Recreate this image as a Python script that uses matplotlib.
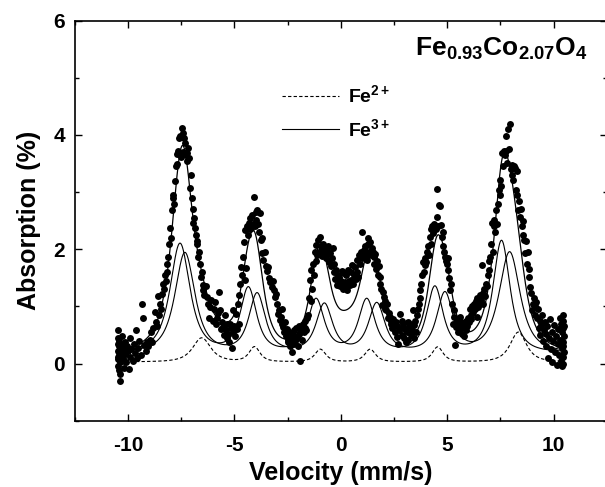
import numpy as np
import matplotlib.pyplot as plt
from matplotlib.ticker import MultipleLocator

plt.rcParams['font.family'] = 'Liberation Sans'
plt.rcParams['font.weight'] = 'bold'
plt.rcParams['mathtext.fontset'] = 'custom'
plt.rcParams['mathtext.rm'] = 'Liberation Sans:bold'
plt.rcParams['mathtext.it'] = 'Liberation Sans:bold'
plt.rcParams['mathtext.bf'] = 'Liberation Sans:bold'
plt.rcParams['mathtext.default'] = 'regular'
plt.rcParams['axes.unicode_minus'] = False

edge_l_x = [-10.48, -10.47, -10.47, -10.46, -10.45, -10.45, -10.44, -10.43, -10.42, -10.41,
            -10.40, -10.39, -10.38, -10.36, -10.35, -10.33, -10.31, -10.29, -10.27, -10.25,
            -10.23, -10.20, -10.17, -10.14, -10.11, -10.08, -10.04, -10.00, -9.96, -9.92,
            -9.88, -9.83, -9.78, -9.73, -9.68, -9.63, -9.58, -9.52, -9.46, -9.40,
            -9.34, -9.28, -9.22, -9.16, -9.10, -9.04]
edge_l_y = [0.58, 0.12, 0.35, -0.05, 0.22, 0.45, 0.08, 0.30, -0.12, 0.18,
            0.40, 0.02, -0.30, 0.26, -0.18, 0.14, 0.33, 0.05, 0.48, 0.20,
            0.10, 0.28, -0.08, 0.38, 0.16, 0.02, 0.30, 0.22, -0.10, 0.45,
            0.12, 0.25, 0.05, 0.35, 0.18, 0.58, 0.10, 0.28, 0.40, 0.15,
            1.05, 0.80, 0.32, 0.22, 0.38, 0.30]

p1_x = [-8.98, -8.92, -8.86, -8.80, -8.74, -8.68, -8.62, -8.57, -8.52, -8.49,
        -8.44, -8.39, -8.34, -8.30, -8.26, -8.22, -8.18, -8.14, -8.10, -8.06,
        -8.02, -7.98, -7.94, -7.90, -7.87, -7.83, -7.79, -7.75, -7.71, -7.67,
        -7.63, -7.59, -7.55, -7.51, -7.47, -7.43, -7.40, -7.36, -7.32, -7.28,
        -7.24, -7.20, -7.16, -7.12, -7.08, -7.04, -7.00, -6.96, -6.93, -6.89,
        -6.85, -6.81, -6.77, -6.73]
p1_y = [0.42, 0.55, 0.38, 0.62, 0.90, 0.72, 0.66, 1.19, 0.85, 1.05,
        0.95, 1.22, 1.40, 1.30, 1.55, 1.45, 1.75, 1.60, 1.87, 2.10,
        2.37, 2.20, 2.69, 2.90, 2.95, 2.80, 3.19, 3.45, 3.66, 3.50,
        3.72, 3.95, 3.98, 3.62, 4.13, 3.70, 4.04, 3.95, 3.86, 3.65,
        3.69, 3.55, 3.77, 3.60, 3.07, 3.30, 2.90, 2.70, 2.46, 2.55,
        2.37, 2.25, 2.10, 2.15]

v1_x = [-6.69, -6.65, -6.61, -6.57, -6.53, -6.49, -6.45, -6.40, -6.35, -6.30,
        -6.25, -6.20, -6.14, -6.08, -6.02, -5.96, -5.91, -5.86, -5.81, -5.76,
        -5.71, -5.67, -5.62, -5.57, -5.52, -5.48, -5.44, -5.40, -5.36, -5.32,
        -5.28, -5.24, -5.20, -5.16, -5.12, -5.08, -5.04, -5.00, -4.96]
v1_y = [1.87, 1.95, 1.75, 1.52, 1.60, 1.38, 1.28, 1.20, 1.35, 1.17,
        1.05, 0.80, 0.99, 1.12, 0.75, 0.95, 1.08, 0.70, 0.79, 0.88,
        1.25, 0.93, 0.60, 0.72, 0.64, 0.50, 0.85, 0.58, 0.45, 0.70,
        0.52, 0.38, 0.70, 0.62, 0.28, 0.93, 0.55, 0.66, 0.48]

p2_x = [-4.92, -4.88, -4.84, -4.80, -4.76, -4.72, -4.68, -4.64, -4.60, -4.56,
        -4.52, -4.48, -4.44, -4.40, -4.36, -4.32, -4.28, -4.24, -4.20, -4.16,
        -4.12, -4.08, -4.04, -4.00, -3.96, -3.92, -3.88, -3.84, -3.80, -3.76,
        -3.72, -3.68, -3.64, -3.58, -3.52, -3.46, -3.41, -3.36, -3.31, -3.25,
        -3.20, -3.15, -3.10, -3.05]
p2_y = [0.87, 0.60, 1.05, 0.70, 1.20, 1.40, 1.69, 1.55, 1.87, 2.13,
        1.46, 2.34, 1.67, 2.40, 2.25, 2.46, 2.55, 2.35, 2.38, 2.60,
        2.44, 2.91, 2.40, 2.52, 2.65, 2.69, 2.45, 2.30, 2.63, 2.16,
        1.93, 2.20, 1.81, 1.95, 1.70, 1.62, 1.69, 1.50, 1.42, 1.34,
        1.45, 1.28, 1.17, 1.22]

v2_x = [-3.00, -2.95, -2.90, -2.86, -2.82, -2.78, -2.74, -2.70, -2.66, -2.62,
        -2.58, -2.54, -2.50, -2.46, -2.42, -2.38, -2.34, -2.30, -2.26, -2.22,
        -2.18, -2.14, -2.10, -2.06, -2.02, -1.98, -1.94, -1.90, -1.86, -1.82,
        -1.78, -1.74, -1.70, -1.66, -1.62, -1.58]
v2_y = [1.05, 0.87, 0.93, 0.76, 0.82, 0.95, 0.70, 0.64, 0.55, 0.72,
        0.48, 0.60, 0.42, 0.38, 0.55, 0.30, 0.45, 0.20, 0.50, 0.35,
        0.58, 0.40, 0.62, 0.45, 0.30, 0.52, 0.65, 0.05, 0.60, 0.42,
        0.70, 0.55, 0.62, 0.75, 0.58, 0.80]

p3_x = [-1.54, -1.50, -1.46, -1.42, -1.38, -1.34, -1.30, -1.26, -1.22, -1.18,
        -1.14, -1.10, -1.06, -1.02, -0.98, -0.94, -0.90, -0.86, -0.82, -0.78,
        -0.74, -0.70, -0.66, -0.62, -0.58, -0.54, -0.50, -0.46, -0.42, -0.38,
        -0.34, -0.30, -0.26, -0.22, -0.18, -0.14, -0.10, -0.06, -0.02]
p3_y = [0.85, 1.14, 1.46, 1.10, 1.64, 1.30, 1.75, 1.55, 1.96, 1.80,
        2.08, 1.90, 2.16, 1.95, 2.22, 2.05, 1.88, 2.00, 2.10, 1.95,
        1.99, 1.85, 2.02, 1.92, 2.05, 1.78, 1.93, 1.70, 1.84, 2.02,
        1.60, 1.75, 1.48, 1.64, 1.38, 1.55, 1.46, 1.52, 1.35]

mid_x = [0.02, 0.06, 0.10, 0.14, 0.18, 0.22, 0.26, 0.30, 0.34, 0.38,
         0.42, 0.46, 0.50, 0.54, 0.58, 0.62, 0.66, 0.70, 0.74, 0.78,
         0.82, 0.86, 0.90, 0.94, 0.98]
mid_y = [1.45, 1.62, 1.30, 1.58, 1.42, 1.34, 1.55, 1.28, 1.64, 1.45,
         1.38, 1.60, 1.46, 1.72, 1.40, 1.55, 1.69, 1.48, 1.82, 1.60,
         1.52, 1.90, 1.75, 1.95, 1.85]

p4_x = [1.02, 1.06, 1.10, 1.14, 1.18, 1.22, 1.26, 1.30, 1.34, 1.38,
        1.42, 1.46, 1.50, 1.54, 1.58, 1.62, 1.66, 1.70, 1.74, 1.78,
        1.82, 1.86, 1.90, 1.94, 1.98, 2.02, 2.06, 2.10, 2.14, 2.18,
        2.22, 2.26, 2.30, 2.34, 2.38, 2.42, 2.46, 2.50, 2.54, 2.58]
p4_y = [2.31, 1.92, 1.99, 2.05, 1.88, 1.81, 2.10, 2.19, 1.95, 2.13,
        1.90, 2.02, 1.96, 1.87, 1.75, 1.92, 1.66, 1.80, 1.55, 1.70,
        1.52, 1.40, 1.30, 1.02, 1.25, 1.17, 1.10, 0.95, 0.93, 1.05,
        0.80, 0.88, 0.81, 0.70, 0.75, 0.62, 0.78, 0.68, 0.55, 0.72]

v3_x = [2.62, 2.66, 2.70, 2.74, 2.78, 2.82, 2.86, 2.90, 2.94, 2.98,
        3.02, 3.06, 3.10, 3.14, 3.18, 3.22, 3.26, 3.30, 3.34, 3.38,
        3.42, 3.46, 3.50, 3.54, 3.58, 3.62, 3.66, 3.70, 3.74, 3.78,
        3.82, 3.86, 3.90]
v3_y = [0.46, 0.65, 0.35, 0.58, 0.87, 0.62, 0.50, 0.75, 0.70, 0.45,
        0.60, 0.38, 0.55, 0.72, 0.41, 0.65, 0.70, 0.50, 0.58, 0.93,
        0.45, 0.68, 0.75, 0.55, 0.85, 0.95, 1.05, 1.28, 1.15, 1.40,
        1.55, 1.78, 1.60]

p5_x = [3.94, 3.98, 4.02, 4.06, 4.10, 4.14, 4.18, 4.22, 4.26, 4.30,
        4.34, 4.38, 4.42, 4.46, 4.50, 4.54, 4.58, 4.62, 4.66, 4.70,
        4.74, 4.78, 4.82, 4.86, 4.90, 4.94, 4.98, 5.02, 5.06, 5.10,
        5.14, 5.18]
p5_y = [1.72, 1.85, 1.78, 1.95, 2.05, 1.90, 2.22, 2.35, 2.10, 2.40,
        2.28, 2.45, 2.40, 2.35, 3.06, 2.57, 2.40, 2.78, 2.75, 2.42,
        2.22, 2.30, 2.05, 1.95, 1.87, 1.80, 1.75, 1.85, 1.64, 1.50,
        1.28, 1.40]

v4_x = [5.22, 5.26, 5.30, 5.34, 5.38, 5.42, 5.46, 5.50, 5.54, 5.58,
        5.62, 5.66, 5.70, 5.74, 5.78, 5.82, 5.86, 5.90, 5.94, 5.98,
        6.02, 6.06, 6.10, 6.14, 6.18, 6.22, 6.26, 6.30, 6.34, 6.38,
        6.42, 6.46, 6.50, 6.54, 6.58, 6.62, 6.66, 6.70, 6.74, 6.78,
        6.82, 6.86, 6.90]
v4_y = [1.05, 0.70, 0.93, 0.82, 0.32, 0.64, 0.75, 0.55, 0.68, 0.81,
        0.60, 0.72, 0.52, 0.70, 0.48, 0.62, 0.75, 0.58, 0.66, 0.80,
        0.72, 0.95, 0.85, 0.78, 1.00, 0.90, 1.05, 0.95, 1.10, 0.81,
        1.15, 0.99, 1.08, 1.20, 1.12, 1.72, 1.23, 1.05, 1.30, 1.18,
        1.40, 1.35, 1.55]

p6_x = [6.94, 6.98, 7.02, 7.06, 7.10, 7.14, 7.18, 7.22, 7.26, 7.30,
        7.34, 7.38, 7.42, 7.46, 7.50, 7.54, 7.58, 7.62, 7.66, 7.70,
        7.74, 7.78, 7.82, 7.86, 7.90, 7.94, 7.98, 8.02, 8.06, 8.10,
        8.14, 8.18, 8.22, 8.26, 8.30, 8.34, 8.38, 8.42, 8.46, 8.50,
        8.54, 8.58, 8.62, 8.66, 8.70, 8.74, 8.78, 8.82, 8.86, 8.90,
        8.94, 8.98, 9.02, 9.06, 9.10, 9.14, 9.18]
p6_y = [1.64, 1.80, 1.87, 2.10, 2.46, 1.95, 2.40, 2.52, 2.30, 2.69,
        2.45, 2.80, 3.04, 2.95, 3.22, 3.10, 3.69, 3.45, 3.72, 3.65,
        3.72, 3.98, 3.51, 4.10, 3.75, 4.19, 3.40, 3.48, 3.30, 3.22,
        3.45, 3.42, 3.04, 3.37, 2.95, 2.69, 2.85, 2.57, 2.70, 2.40,
        2.50, 2.25, 2.16, 1.93, 2.14, 1.75, 1.95, 1.52, 1.65, 1.34,
        1.23, 0.93, 1.05, 1.15, 0.85, 1.00, 1.08]

edge_r_x = [9.22, 9.26, 9.30, 9.34, 9.38, 9.42, 9.46, 9.50, 9.54, 9.58,
            9.62, 9.66, 9.70, 9.74, 9.78, 9.82, 9.86, 9.90, 9.94, 9.98,
            10.02, 10.06, 10.10, 10.14, 10.18, 10.22, 10.25, 10.28, 10.31, 10.34,
            10.36, 10.38, 10.40, 10.41, 10.42, 10.43, 10.44, 10.45, 10.45, 10.46,
            10.46, 10.47, 10.47, 10.48]
edge_r_y = [0.80, 0.95, 0.62, 0.75, 0.50, 0.68, 0.85, 0.40, 0.58, 0.72,
            0.30, 0.52, 0.65, 0.10, 0.45, 0.78, 0.25, 0.55, 0.02, 0.40,
            0.68, 0.20, 0.48, -0.02, 0.35, 0.60, 0.15, 0.80, 0.42, 0.05,
            0.70, 0.28, 0.55, -0.05, 0.38, 0.85, 0.12, 0.62, 0.30, 0.75,
            0.00, 0.48, 0.20, 0.65]

vel = np.concatenate([edge_l_x, p1_x, v1_x, p2_x, v2_x, p3_x, mid_x,
                      p4_x, v3_x, p5_x, v4_x, p6_x, edge_r_x])
absn = np.concatenate([edge_l_y, p1_y, v1_y, p2_y, v2_y, p3_y, mid_y,
                       p4_y, v3_y, p5_y, v4_y, p6_y, edge_r_y])

# fitted sextets: line position, line height above base, half width at half max
fe3_base = 0.20
fe3a_pos = [-7.55, -4.34, -1.16, 1.22, 4.42, 7.55]
fe3a_amp = [1.90, 1.12, 0.92, 0.92, 1.14, 1.95]
fe3a_hw = [0.55, 0.45, 0.45, 0.45, 0.45, 0.47]
fe3b_pos = [-7.32, -3.93, -0.77, 1.69, 4.89, 7.93]
fe3b_amp = [1.74, 1.02, 0.84, 0.85, 1.03, 1.75]
fe3b_hw = [0.55, 0.45, 0.45, 0.45, 0.45, 0.58]
fe2_base = 0.03
fe2_pos = [-6.53, -4.05, -0.96, 1.38, 4.55, 8.34]
fe2_amp = [0.42, 0.26, 0.22, 0.22, 0.26, 0.52]
fe2_hw = [0.50, 0.30, 0.30, 0.30, 0.30, 0.45]
# broad extra terms in the fitted envelope
extra_pos = [-5.6, 0.35]
extra_amp = [0.15, 0.38]
extra_hw = [0.70, 0.90]


def lines(v, pos, amp, hw, m=1.5):
    out = np.zeros_like(v)
    for p, a, h in zip(pos, amp, hw):
        w = h / np.sqrt(2 ** (1 / m) - 1)
        out += a * (1 + ((v - p) / w) ** 2) ** (-m)
    return out


v = np.linspace(-10.4, 10.4, 2000)
la = lines(v, fe3a_pos, fe3a_amp, fe3a_hw)
lb = lines(v, fe3b_pos, fe3b_amp, fe3b_hw)
l2 = lines(v, fe2_pos, fe2_amp, fe2_hw)
lx = lines(v, extra_pos, extra_amp, extra_hw)

fig = plt.figure(figsize=(6.05, 4.87), dpi=100)
ax = fig.add_axes([74.6/605, 66.3/487, 532.3/605, 400/487])

ax.plot(vel, absn, 'o', color='black', ms=5, mew=0)
h2, = ax.plot(v, fe2_base + l2, color='black', lw=0.8, ls=(0, (3, 2)), label='Fe$^{2+}$')
h3, = ax.plot(v, fe3_base + la, color='black', lw=0.8, label='Fe$^{3+}$')
ax.plot(v, fe3_base + lb, color='black', lw=0.8)
ax.plot(v, fe3_base + la + lb + l2 + lx, color='black', lw=0.9)

ax.set_xlim(-12.5, 12.5)
ax.set_ylim(-1, 6)
ax.xaxis.set_major_locator(MultipleLocator(5))
ax.xaxis.set_minor_locator(MultipleLocator(2.5))
ax.yaxis.set_major_locator(MultipleLocator(2))
ax.yaxis.set_minor_locator(MultipleLocator(1))
ax.tick_params(which='both', direction='in', top=True, right=True, width=1, labelsize=15)
ax.tick_params(which='major', length=5)
ax.tick_params(which='minor', length=3)
ax.tick_params(axis='x', pad=11)
ax.tick_params(axis='y', pad=7)
for s in ax.spines.values():
    s.set_linewidth(1.2)

ax.set_xlabel('Velocity (mm/s)', fontsize=18, fontweight='bold', labelpad=4)
ax.set_ylabel('Absorption (%)', fontsize=18, fontweight='bold', labelpad=9)

ax.text(0.6395, 0.912, '$Fe_{0.93}Co_{2.07}O_{4}$', transform=ax.transAxes,
        fontsize=19, fontweight='bold', va='baseline', ha='left')

ax.legend(handles=[h2, h3], loc='upper left', bbox_to_anchor=(0.39, 0.84),
          frameon=False, fontsize=14, handlelength=2.9, handletextpad=0.5,
          borderpad=0, borderaxespad=0, labelspacing=0.6)

fig.savefig('out.png', dpi=100)
